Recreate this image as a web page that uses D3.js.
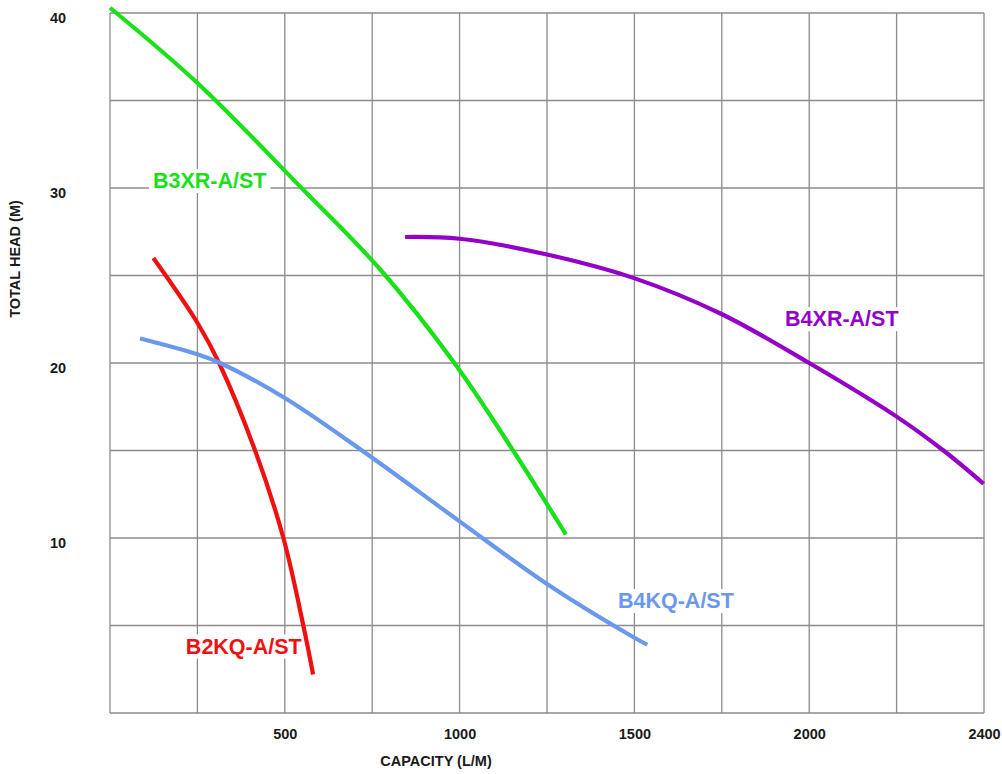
<!DOCTYPE html>
<html>
<head>
<meta charset="utf-8">
<script src="https://cdnjs.cloudflare.com/ajax/libs/d3/7.8.5/d3.min.js"></script>
<style>
  html, body { margin: 0; padding: 0; background: #fff; }
  svg { display: block; font-family: "Liberation Sans", Arial, sans-serif; }
</style>
</head>
<body>
<svg id="chart" width="1002" height="774"></svg>
<script>
// Axis ticks
var capacityTicks = [500, 1000, 1500, 2000, 2500];
var capacityLabels = ['500', '1000', '1500', '2000', '2400'];
var headTicks = [10, 20, 30, 40];

// Pump curves, [capacity L/M, head M]
var b3xr = [[0, 40.3], [250, 36], [548, 30], [775, 25.3], [985, 20], [1153, 15], [1304, 10.2]];
var b2kq = [[124, 26], [250, 22.3], [312, 20], [415, 15], [496, 10], [553, 5], [581, 2.2]];
var b4kq = [[86, 21.4], [250, 20.5], [315, 20], [500, 18], [735, 14.8], [1000, 10.95], [1250, 7.37], [1500, 4.3], [1537, 3.9]];
var b4xr = [[844, 27.2], [1000, 27.1], [1250, 26.2], [1499, 24.85], [1749, 22.8], [2000, 20], [2249, 16.95], [2384, 15], [2499, 13.1]];

var seriesNames = ['B3XR-A/ST', 'B2KQ-A/ST', 'B4KQ-A/ST', 'B4XR-A/ST'];

var series = [
  {name: seriesNames[0], values: b3xr, color: '#19e019'},
  {name: seriesNames[1], values: b2kq, color: '#f01010'},
  {name: seriesNames[2], values: b4kq, color: '#6a98ee'},
  {name: seriesNames[3], values: b4xr, color: '#9400c8'}
];

// where each curve name sits (data units, left/baseline)
var labelSpots = [[123, 30], [217, 3.4], [1453, 6], [1931, 22.1]];

var margin = {top: 13, right: 18, bottom: 61, left: 110};
var svg = d3.select('#chart');
var width = 1002 - margin.left - margin.right;
var height = 774 - margin.top - margin.bottom;

var x = d3.scaleLinear().domain([0, 2500]).range([0, width]);
var y = d3.scaleLinear().domain([0, 40]).range([height, 0]);

var g = svg.append('g').attr('transform', 'translate(' + margin.left + ',' + margin.top + ')');

// grid, every 250 L/M and 5 m
var grid = g.append('g').attr('class', 'grid')
  .style('stroke', '#8c8c8c')
  .style('stroke-width', 1.3);

grid.selectAll('line.v')
  .data(d3.range(0, 2501, 250))
  .enter().append('line')
  .attr('x1', function(d) { return x(d); })
  .attr('x2', function(d) { return x(d); })
  .attr('y1', 0)
  .attr('y2', height);

grid.selectAll('line.h')
  .data(d3.range(0, 41, 5))
  .enter().append('line')
  .attr('x1', 0)
  .attr('x2', width)
  .attr('y1', function(d) { return y(d); })
  .attr('y2', function(d) { return y(d); });

// axes, tick text only
var xAxis = d3.axisBottom(x)
  .tickValues(capacityTicks)
  .tickSize(0)
  .tickPadding(16)
  .tickFormat(function(d, i) { return capacityLabels[i]; });

var yAxis = d3.axisLeft(y)
  .tickValues(headTicks)
  .tickSize(0)
  .tickPadding(52)
  .tickFormat(d3.format('d'));

var xg = g.append('g').attr('transform', 'translate(0,' + height + ')').call(xAxis);
var yg = g.append('g').call(yAxis);

[xg, yg].forEach(function(a) {
  a.select('.domain').remove();
  a.selectAll('text')
    .style('font-size', '14.5px')
    .style('font-weight', 'bold')
    .style('fill', '#1a1a1a')
    .style('font-family', '"Liberation Sans", Arial, sans-serif');
});
yg.selectAll('text').attr('text-anchor', 'middle').attr('dy', '0.62em');

// axis titles
svg.append('text')
  .attr('x', 436)
  .attr('y', 766)
  .attr('text-anchor', 'middle')
  .style('font-size', '14.5px')
  .style('font-weight', 'bold')
  .style('fill', '#1a1a1a')
  .text('CAPACITY (L/M)');

svg.append('text')
  .attr('transform', 'translate(20,259) rotate(-90)')
  .attr('text-anchor', 'middle')
  .style('font-size', '14.5px')
  .style('font-weight', 'bold')
  .style('fill', '#1a1a1a')
  .text('TOTAL HEAD (M)');

// curve labels with white boxes to break the grid
var labels = g.append('g').attr('class', 'labels');
series.forEach(function(s, i) {
  var lg = labels.append('g');
  var t = lg.append('text')
    .attr('x', x(labelSpots[i][0]))
    .attr('y', y(labelSpots[i][1]))
    .style('font-size', '21.5px')
    .style('font-weight', 'bold')
    .style('fill', s.color)
    .text(s.name);
  var bb = t.node().getBBox();
  lg.insert('rect', 'text')
    .attr('x', bb.x - 4)
    .attr('y', bb.y)
    .attr('width', bb.width + 8)
    .attr('height', bb.height)
    .attr('fill', '#fff');
});

// curves
var line = d3.line()
  .x(function(d) { return x(d[0]); })
  .y(function(d) { return y(d[1]); })
  .curve(d3.curveCatmullRom.alpha(0.5));

g.selectAll('path.curve')
  .data(series)
  .enter().append('path')
  .attr('class', 'curve')
  .attr('d', function(d) { return line(d.values); })
  .attr('fill', 'none')
  .attr('stroke', function(d) { return d.color; })
  .attr('stroke-width', 4.2);
</script>
</body>
</html>
